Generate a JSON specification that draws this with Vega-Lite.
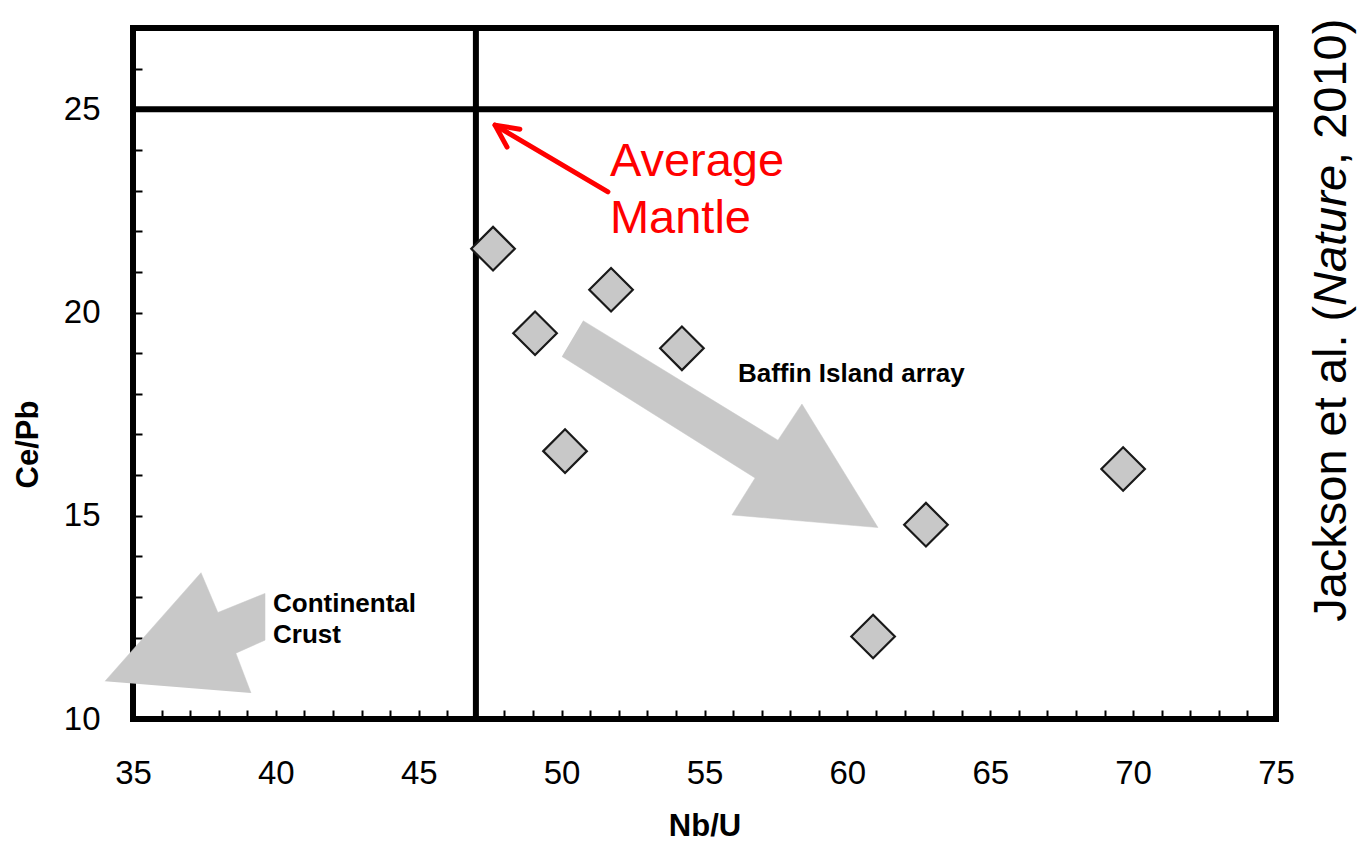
{
  "$schema": "https://vega.github.io/schema/vega-lite/v6.json",
  "width": 1143,
  "height": 691,
  "autosize": {"type": "none"},
  "padding": {"left": 133, "top": 28, "right": 86, "bottom": 123},
  "background": "white",
  "config": {
    "view": {"stroke": "#000", "strokeWidth": 6},
    "font": "Liberation Sans",
    "axis": {
      "grid": false,
      "domain": false,
      "tickSize": -9,
      "tickWidth": 2,
      "tickColor": "#000",
      "labelColor": "#000",
      "labelFontSize": 33,
      "labelFont": "Liberation Sans",
      "labelOverlap": false,
      "labelFlush": false,
      "titleColor": "#000",
      "titleFont": "Liberation Sans",
      "titleFontWeight": "bold"
    }
  },
  "datasets": {
    "pts": [
      {"x": 47.6, "y": 21.57},
      {"x": 51.73, "y": 20.56},
      {"x": 49.07, "y": 19.49},
      {"x": 54.21, "y": 19.12},
      {"x": 50.12, "y": 16.59},
      {"x": 62.75, "y": 14.78},
      {"x": 69.65, "y": 16.15},
      {"x": 60.9, "y": 12.03}
    ],
    "poly": [
      {"shape": "crust", "ord": 1, "x": 34.02, "y": 10.93},
      {"shape": "crust", "ord": 2, "x": 37.38, "y": 13.6},
      {"shape": "crust", "ord": 3, "x": 37.97, "y": 12.62},
      {"shape": "crust", "ord": 4, "x": 39.62, "y": 13.09},
      {"shape": "crust", "ord": 5, "x": 39.62, "y": 11.94},
      {"shape": "crust", "ord": 6, "x": 38.6, "y": 11.62},
      {"shape": "crust", "ord": 7, "x": 39.13, "y": 10.64},
      {"shape": "baffin", "ord": 1, "x": 50.75, "y": 19.8},
      {"shape": "baffin", "ord": 2, "x": 57.57, "y": 16.86},
      {"shape": "baffin", "ord": 3, "x": 58.41, "y": 17.75},
      {"shape": "baffin", "ord": 4, "x": 61.07, "y": 14.71},
      {"shape": "baffin", "ord": 5, "x": 55.96, "y": 15.02},
      {"shape": "baffin", "ord": 6, "x": 56.77, "y": 15.93},
      {"shape": "baffin", "ord": 7, "x": 50.01, "y": 18.92}
    ],
    "redarrow": [
      {"seg": "shaft", "ord": 1, "x": 51.62, "y": 22.97},
      {"seg": "shaft", "ord": 2, "x": 47.67, "y": 24.61},
      {"seg": "head", "ord": 1, "x": 48.54, "y": 24.51},
      {"seg": "head", "ord": 2, "x": 47.67, "y": 24.61},
      {"seg": "head", "ord": 3, "x": 48.09, "y": 24.07}
    ],
    "rules": [
      {"x": 47, "y": 10, "x2": 47, "y2": 27},
      {"x": 35, "y": 25, "x2": 75, "y2": 25}
    ],
    "red": [
      {"x": 51.69, "y": 23.7, "t": "Average"},
      {"x": 51.69, "y": 22.3, "t": "Mantle"}
    ],
    "notes": [
      {"x": 56.17, "y": 18.5, "t": "Baffin Island array"},
      {"x": 39.9, "y": 12.84, "t": "Continental"},
      {"x": 39.9, "y": 12.06, "t": "Crust"}
    ],
    "citeNormal": [
      {"x": 76.96, "y": 12.39, "t": "Jackson et al. ("},
      {"x": 76.96, "y": 23.63, "t": ", 2010)"}
    ],
    "citeItalic": [
      {"x": 76.96, "y": 20.16, "t": "Nature"}
    ]
  },
  "encoding": {
    "x": {
      "field": "x",
      "type": "quantitative",
      "scale": {"domain": [35, 75], "nice": false, "zero": false},
      "axis": {
        "title": "Nb/U",
        "titleFontSize": 31,
        "titleY": 107,
        "titleBaseline": "middle",
        "values": [35,36,37,38,39,40,41,42,43,44,45,46,47,48,49,50,51,52,53,54,55,56,57,58,59,60,61,62,63,64,65,66,67,68,69,70,71,72,73,74,75],
        "labelExpr": "datum.value % 5 === 0 ? datum.label : ''",
        "labelPadding": 47
      }
    },
    "y": {
      "field": "y",
      "type": "quantitative",
      "scale": {"domain": [10, 27], "nice": false, "zero": false},
      "axis": {
        "title": "Ce/Pb",
        "titleFontSize": 31,
        "titleX": -105,
        "titleY": 416,
        "titleAngle": 270,
        "titleBaseline": "middle",
        "titleAlign": "center",
        "values": [10,11,12,13,14,15,16,17,18,19,20,21,22,23,24,25,26,27],
        "labelExpr": "datum.value % 5 === 0 ? datum.label : ''",
        "labelPadding": 42
      }
    }
  },
  "layer": [
    {
      "data": {"name": "poly"},
      "mark": {"type": "line", "fill": "#c8c8c8", "stroke": "#c8c8c8", "strokeWidth": 0.5},
      "encoding": {
        "detail": {"field": "shape"},
        "order": {"field": "ord", "type": "quantitative"}
      }
    },
    {
      "data": {"name": "rules"},
      "mark": {"type": "rule", "color": "#000", "strokeWidth": 6},
      "encoding": {
        "x2": {"field": "x2"},
        "y2": {"field": "y2"}
      }
    },
    {
      "data": {"name": "redarrow"},
      "mark": {"type": "line", "color": "#ff0000", "strokeWidth": 5, "strokeCap": "round", "strokeJoin": "round"},
      "encoding": {
        "detail": {"field": "seg"},
        "order": {"field": "ord", "type": "quantitative"}
      }
    },
    {
      "data": {"name": "pts"},
      "mark": {"type": "point", "shape": "diamond", "size": 1900, "filled": true, "fill": "#c8c8c8", "stroke": "#1a1a1a", "strokeWidth": 2.2, "opacity": 1}
    },
    {
      "data": {"name": "red"},
      "mark": {"type": "text", "align": "left", "baseline": "middle", "fontSize": 47, "color": "#ff0000", "font": "Liberation Sans"},
      "encoding": {"text": {"field": "t"}}
    },
    {
      "data": {"name": "notes"},
      "mark": {"type": "text", "align": "left", "baseline": "middle", "fontSize": 26, "fontWeight": "bold", "color": "#000", "font": "Liberation Sans"},
      "encoding": {"text": {"field": "t"}}
    },
    {
      "data": {"name": "citeNormal"},
      "mark": {"type": "text", "align": "left", "baseline": "middle", "angle": 270, "fontSize": 47, "color": "#000", "font": "Liberation Sans"},
      "encoding": {"text": {"field": "t"}}
    },
    {
      "data": {"name": "citeItalic"},
      "mark": {"type": "text", "align": "left", "baseline": "middle", "angle": 270, "fontSize": 47, "fontStyle": "italic", "color": "#000", "font": "Liberation Sans"},
      "encoding": {"text": {"field": "t"}}
    }
  ]
}
